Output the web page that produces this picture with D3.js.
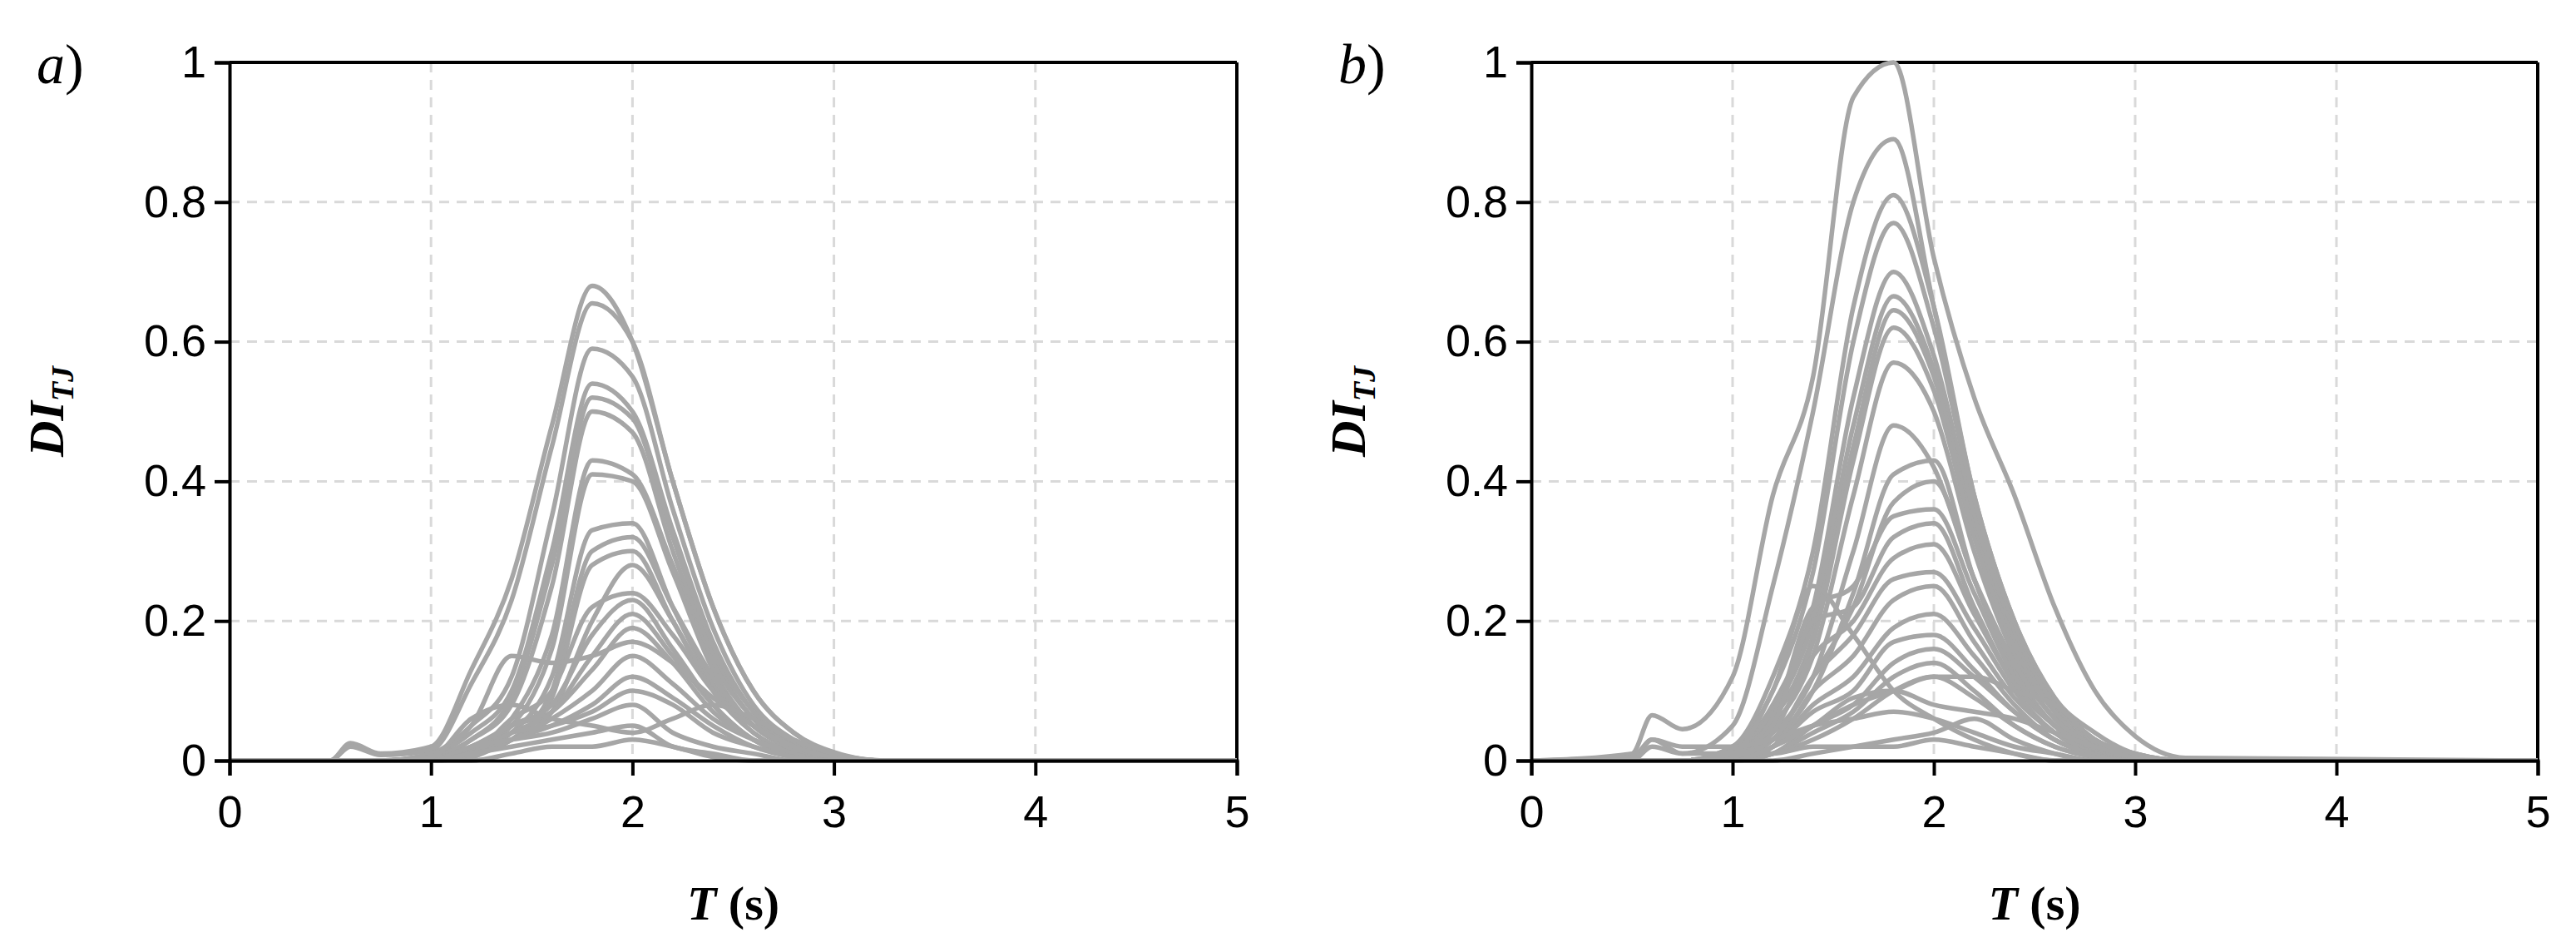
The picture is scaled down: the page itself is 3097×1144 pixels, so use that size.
<!DOCTYPE html>
<html><head><meta charset="utf-8">
<script src="https://cdn.jsdelivr.net/npm/d3@7"></script>
<style>body{margin:0;background:#fff}</style></head>
<body><svg id="c" width="3097" height="1144"></svg>
<script>
const T = [0,0.5,0.6,0.75,1.0,1.2,1.4,1.6,1.8,2.0,2.2,2.4,2.6,2.8,3.0,3.25,5];
const xTicks = [0,1,2,3,4,5];
const yTicks = [0,0.2,0.4,0.6,0.8,1];
const seriesA = [
[0,0,0.025,0.01,0.02,0.13,0.26,0.48,0.68,0.60,0.40,0.22,0.10,0.04,0.012,0,0],
[0,0,0.02,0.008,0.015,0.11,0.23,0.45,0.655,0.60,0.40,0.22,0.10,0.04,0.01,0,0],
[0,0,0,0,0.01,0.05,0.12,0.35,0.59,0.55,0.36,0.19,0.08,0.03,0.008,0,0],
[0,0,0,0,0.008,0.04,0.10,0.30,0.54,0.50,0.33,0.17,0.07,0.025,0.005,0,0],
[0,0,0,0,0.005,0.03,0.09,0.28,0.52,0.49,0.32,0.16,0.07,0.02,0.005,0,0],
[0,0,0,0,0.005,0.03,0.08,0.25,0.50,0.47,0.30,0.15,0.06,0.02,0.004,0,0],
[0,0,0,0,0.003,0.02,0.06,0.18,0.43,0.41,0.28,0.14,0.06,0.02,0.004,0,0],
[0,0,0,0,0.003,0.02,0.05,0.16,0.41,0.40,0.27,0.13,0.05,0.02,0.003,0,0],
[0,0,0,0,0.002,0.015,0.04,0.12,0.33,0.34,0.22,0.11,0.05,0.015,0.003,0,0],
[0,0,0,0,0,0.01,0.03,0.10,0.30,0.32,0.22,0.12,0.05,0.015,0.002,0,0],
[0,0,0,0,0,0.01,0.03,0.09,0.28,0.30,0.20,0.10,0.04,0.01,0,0,0],
[0,0,0,0,0,0.008,0.03,0.07,0.20,0.28,0.20,0.10,0.04,0.01,0,0,0],
[0,0,0,0,0,0.01,0.06,0.10,0.22,0.24,0.18,0.10,0.05,0.015,0,0,0],
[0,0,0,0,0,0.01,0.05,0.08,0.18,0.23,0.16,0.08,0.03,0.01,0,0,0],
[0,0,0,0,0,0.005,0.04,0.07,0.15,0.21,0.15,0.08,0.03,0.008,0,0,0],
[0,0,0,0,0,0.02,0.05,0.07,0.13,0.19,0.14,0.07,0.03,0.008,0,0,0],
[0,0,0,0,0.01,0.05,0.15,0.14,0.15,0.17,0.14,0.09,0.05,0.02,0.005,0,0],
[0,0,0,0,0,0.01,0.03,0.06,0.10,0.15,0.11,0.06,0.03,0.01,0,0,0],
[0,0,0,0,0,0.005,0.03,0.05,0.08,0.12,0.09,0.05,0.02,0.005,0,0,0],
[0,0,0,0,0,0.01,0.04,0.05,0.07,0.10,0.08,0.04,0.02,0.005,0,0,0],
[0,0,0,0,0,0.02,0.03,0.04,0.06,0.08,0.04,0.02,0.01,0,0,0,0],
[0,0,0,0,0,0.01,0.02,0.03,0.04,0.05,0.02,0.01,0,0,0,0,0],
[0,0,0,0,0,0,0.01,0.02,0.02,0.03,0.02,0.005,0,0,0,0,0],
[0,0,0,0,0.005,0.06,0.08,0.06,0.05,0.04,0.06,0.08,0.06,0.03,0.01,0,0]
];
const seriesB = [
[0,0.01,0.065,0.045,0.12,0.38,0.55,0.95,1.0,0.72,0.52,0.38,0.22,0.10,0.035,0.004,0],
[0,0,0.03,0.01,0.05,0.25,0.50,0.80,0.89,0.65,0.38,0.20,0.09,0.04,0.01,0,0],
[0,0,0,0,0.02,0.12,0.30,0.65,0.81,0.65,0.38,0.20,0.09,0.03,0.01,0,0],
[0,0,0,0,0.02,0.10,0.27,0.60,0.77,0.62,0.37,0.19,0.08,0.03,0.008,0,0],
[0,0,0,0,0.015,0.08,0.22,0.52,0.70,0.58,0.35,0.18,0.08,0.03,0.006,0,0],
[0,0,0,0,0.01,0.07,0.20,0.48,0.665,0.56,0.33,0.17,0.07,0.025,0.005,0,0],
[0,0,0,0,0.01,0.06,0.18,0.45,0.645,0.55,0.33,0.17,0.07,0.02,0.005,0,0],
[0,0,0,0,0.01,0.06,0.17,0.43,0.62,0.53,0.32,0.16,0.07,0.02,0.005,0,0],
[0,0,0,0,0.01,0.05,0.15,0.38,0.57,0.50,0.30,0.15,0.06,0.02,0.004,0,0],
[0,0,0,0,0.008,0.04,0.12,0.30,0.48,0.42,0.26,0.13,0.05,0.02,0.003,0,0],
[0,0,0,0,0.005,0.03,0.10,0.24,0.41,0.43,0.26,0.13,0.05,0.02,0.003,0,0],
[0,0,0,0,0.005,0.03,0.12,0.22,0.37,0.40,0.26,0.14,0.06,0.02,0.003,0,0],
[0,0,0,0,0.01,0.06,0.22,0.25,0.35,0.36,0.24,0.12,0.05,0.015,0.002,0,0],
[0,0,0,0,0.005,0.05,0.20,0.22,0.32,0.34,0.22,0.11,0.05,0.015,0,0,0],
[0,0,0,0,0.005,0.04,0.15,0.20,0.29,0.31,0.21,0.11,0.05,0.015,0,0,0],
[0,0,0,0,0.005,0.03,0.12,0.18,0.26,0.27,0.19,0.10,0.04,0.01,0,0,0],
[0,0,0,0,0,0.02,0.10,0.15,0.23,0.25,0.17,0.09,0.04,0.01,0,0,0],
[0,0,0,0,0,0.02,0.08,0.12,0.19,0.21,0.15,0.08,0.03,0.01,0,0,0],
[0,0,0,0,0,0.02,0.07,0.10,0.17,0.18,0.13,0.07,0.03,0.008,0,0,0],
[0,0,0,0,0,0.01,0.05,0.08,0.14,0.16,0.12,0.07,0.03,0.008,0,0,0],
[0,0,0,0,0,0.01,0.04,0.07,0.12,0.14,0.10,0.05,0.02,0.005,0,0,0],
[0,0,0,0,0,0.01,0.03,0.06,0.10,0.12,0.09,0.05,0.02,0.005,0,0,0],
[0,0,0,0,0,0.02,0.05,0.09,0.10,0.08,0.07,0.06,0.04,0.02,0.005,0,0],
[0,0.005,0.03,0.02,0.02,0.03,0.05,0.06,0.07,0.06,0.04,0.02,0.01,0,0,0,0],
[0,0,0,0,0,0,0.01,0.02,0.03,0.04,0.06,0.03,0.01,0,0,0,0],
[0,0,0,0,0.01,0.10,0.25,0.18,0.10,0.06,0.03,0.01,0,0,0,0,0],
[0,0,0.02,0.01,0.01,0.01,0.02,0.02,0.02,0.03,0.02,0.01,0,0,0,0,0],
[0,0,0,0,0,0.02,0.05,0.08,0.10,0.12,0.12,0.10,0.08,0.03,0.01,0,0]
];
const panels = [{label:"a", data:seriesA, x0:276, x1:1487},{label:"b", data:seriesB, x0:1841, x1:3051}];
const yTop = 75, yBot = 914;
const svg = d3.select("#c");
panels.forEach(p=>{
  const x = d3.scaleLinear().domain([0,5]).range([p.x0,p.x1]);
  const y = d3.scaleLinear().domain([0,1]).range([yBot,yTop]);
  const g = svg.append("g");
  g.selectAll(".gx").data(xTicks.slice(1)).join("line")
   .attr("x1",d=>x(d)).attr("x2",d=>x(d)).attr("y1",yTop).attr("y2",yBot)
   .attr("stroke","#d9d9d9").attr("stroke-width",3).attr("stroke-dasharray","12,9");
  g.selectAll(".gy").data(yTicks.slice(1)).join("line")
   .attr("x1",p.x0).attr("x2",p.x1).attr("y1",d=>y(d)).attr("y2",d=>y(d))
   .attr("stroke","#d9d9d9").attr("stroke-width",3).attr("stroke-dasharray","12,9");
  g.append("line").attr("x1",p.x0).attr("x2",p.x1).attr("y1",yTop).attr("y2",yTop).attr("stroke","#000").attr("stroke-width",4);
  g.append("line").attr("x1",p.x1).attr("x2",p.x1).attr("y1",yTop).attr("y2",yBot).attr("stroke","#000").attr("stroke-width",4);
  const line = d3.line().x((d,i)=>x(T[i])).y(d=>y(d)).curve(d3.curveMonotoneX);
  g.selectAll(".s").data(p.data).join("path").attr("d",line)
   .attr("fill","none").attr("stroke","#a6a6a6").attr("stroke-width",5.5);
  const ax = g.append("g").attr("transform",`translate(0,${yBot})`)
   .call(d3.axisBottom(x).tickValues(xTicks).tickSize(18).tickPadding(24).tickFormat(d3.format("d")));
  const ay = g.append("g").attr("transform",`translate(${p.x0},0)`)
   .call(d3.axisLeft(y).tickValues(yTicks).tickSize(18).tickPadding(10).tickFormat(d=>d===0?"0":d===1?"1":d3.format(".1f")(d)));
  [ax,ay].forEach(a=>{
    a.select(".domain").attr("stroke-width",4);
    a.selectAll(".tick line").attr("stroke-width",4);
    a.selectAll("text").attr("font-family","Liberation Sans, Arial, sans-serif").attr("font-size",54).attr("fill","#000");
  });
  const xt = g.append("text").attr("x",(p.x0+p.x1)/2).attr("y",1105).attr("text-anchor","middle")
   .attr("font-family","Liberation Serif, Times New Roman, serif").attr("font-weight","bold").attr("font-size",58);
  xt.append("tspan").attr("font-style","italic").text("T");
  xt.append("tspan").text(" (s)");
  const yt = g.append("text").attr("transform",`translate(${p.x0-200},${(yTop+yBot)/2}) rotate(-90)`).attr("text-anchor","middle")
   .attr("font-family","Liberation Serif, Times New Roman, serif").attr("font-weight","bold").attr("font-style","italic").attr("font-size",60);
  yt.append("tspan").text("DI");
  yt.append("tspan").attr("font-size",38).attr("dy",12).text("TJ");
  const pl = g.append("text").attr("x",p.x0-232).attr("y",100)
   .attr("font-family","Liberation Serif, Times New Roman, serif").attr("font-size",68);
  pl.append("tspan").attr("font-style","italic").text(p.label);
  pl.append("tspan").text(")");
});
</script></body></html>
